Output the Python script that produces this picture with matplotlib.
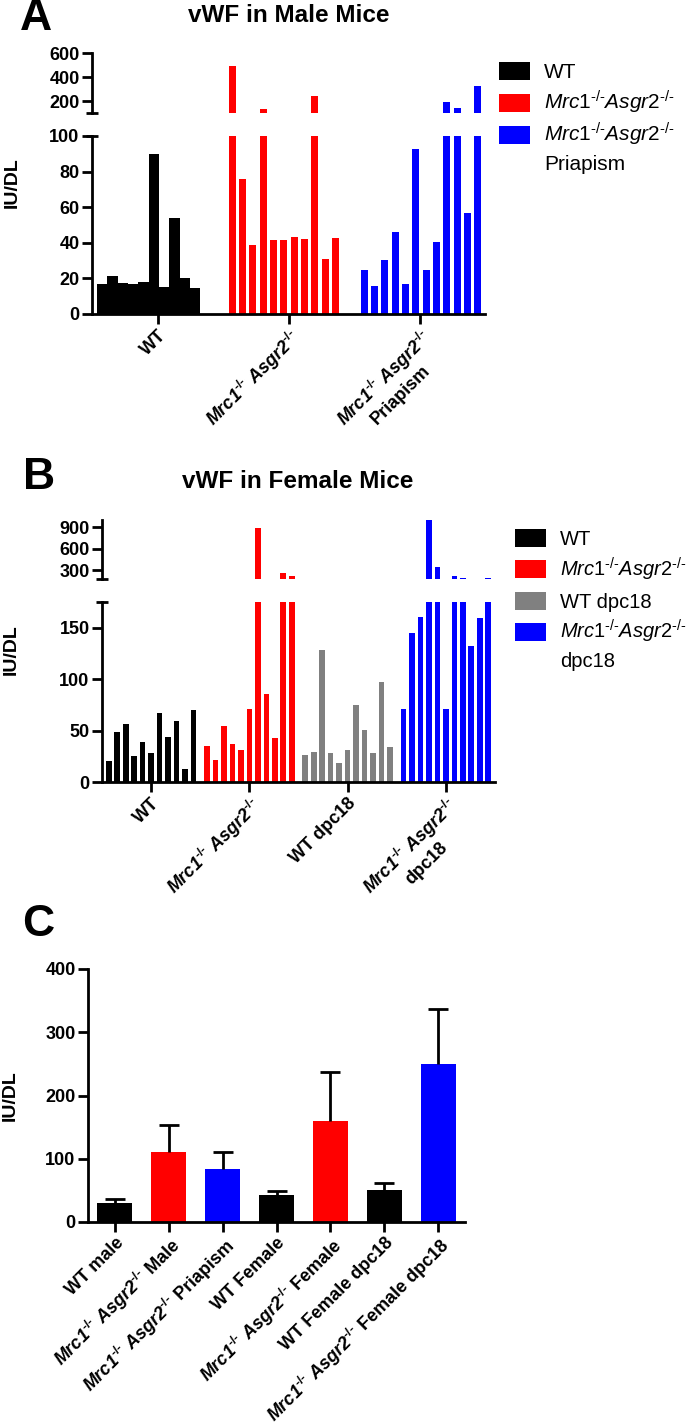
import matplotlib
matplotlib.use('Agg')
import matplotlib.pyplot as plt
from matplotlib.patches import Rectangle
import numpy as np

plt.rcParams['font.family'] = ['Liberation Sans', 'DejaVu Sans']
plt.rcParams['mathtext.fontset'] = 'custom'
plt.rcParams['mathtext.rm'] = 'Liberation Sans'
plt.rcParams['mathtext.it'] = 'Liberation Sans:italic'
plt.rcParams['mathtext.bf'] = 'Liberation Sans:bold'
if 'mathtext.bfit' in plt.rcParams:
    plt.rcParams['mathtext.bfit'] = 'Liberation Sans:italic:bold'

W, H = 693, 1428

# superscript "-/-" written with a real hyphen so mathtext does not turn it into a minus
KO = '$\\mathbfit{Mrc1}^{\\mathbf{\u2010/\u2010}}$ $\\mathbfit{Asgr2}^{\\mathbf{\u2010/\u2010}}$'
KO_LEG = '$\\mathit{Mrc1}^{\u2010/\u2010}\\mathit{Asgr2}^{\u2010/\u2010}$'

# A: vWF in male mice, IU/DL per animal
wt_male = [16.8, 21.5, 17.3, 17.0, 17.7, 90, 15, 53.7, 20, 14.4]
ko_male = [493, 76, 39, 131, 41.5, 41.5, 43, 42, 241, 31, 42.5]
ko_priapism = [25, 16, 30.6, 46, 17, 92.5, 25, 40.5, 192, 142, 57, 324]
male_labels = ['WT', KO, KO + '\nPriapism']
male_legend = ['WT', KO_LEG, KO_LEG + '\nPriapism']
male_colors = ['black', '#ff0000', '#0000ff']

# B: vWF in female mice
wt_female = [20.4, 48.5, 56.6, 25.2, 38.8, 28.5, 66.7, 43.4, 58.9, 12.3, 69.6]
ko_female = [35, 21, 54.7, 36.9, 31.4, 70.6, 895, 85.8, 42.7, 254, 220]
wt_dpc18 = [25.9, 29.1, 128.5, 27.8, 18.8, 31, 75, 50.8, 28.2, 96.8, 33.7]
ko_dpc18 = [70.6, 144.7, 160.8, 1000, 346, 70.6, 216, 182, 132.4, 159.5, 193]
female_labels = ['WT', KO, 'WT dpc18', KO + '\ndpc18']
female_legend = ['WT', KO_LEG, 'WT dpc18', KO_LEG + '\ndpc18']
female_colors = ['black', '#ff0000', '#808080', '#0000ff']

# C: group means with error
summary_labels = ['WT male', KO + ' Male', KO + ' Priapism', 'WT Female',
                  KO + ' Female', 'WT Female dpc18', KO + ' Female dpc18']
summary_means = [30, 111, 84, 43, 160, 50, 250]
summary_err = [6, 43, 27, 6, 77, 11, 86]
summary_colors = ['black', '#ff0000', '#0000ff', 'black', '#ff0000', 'black', '#0000ff']


def px_axes(fig, left, top, right, bottom):
    return fig.add_axes([left / W, 1 - bottom / H, (right - left) / W, (bottom - top) / H])


def style(ax):
    for s in ('top', 'right'):
        ax.spines[s].set_visible(False)
    for s in ('left', 'bottom'):
        ax.spines[s].set_linewidth(2)
    ax.tick_params(width=2, length=7, labelsize=13, pad=2)


def bold_ticks(ax):
    for lbl in ax.get_xticklabels() + ax.get_yticklabels():
        lbl.set_fontweight('bold')


def cap(ax, y):
    ax.plot([-0.016, 0.016], [y, y], transform=ax.transAxes, color='k', lw=2,
            clip_on=False, solid_capstyle='butt')


def broken_panel(fig, xl, xr, top_box, low_box, groups, starts, widths, colors,
                 xlim, top_lim, top_ticks, low_lim, low_ticks, xticks, xlabels):
    upper = px_axes(fig, xl, top_box[0], xr, top_box[1])
    lower = px_axes(fig, xl, low_box[0], xr, low_box[1])
    for ax in (upper, lower):
        for vals, x0, w, c in zip(groups, starts, widths, colors):
            ax.bar(x0 + np.arange(len(vals)), vals, w, color=c, linewidth=0)
        ax.set_xlim(*xlim)
        style(ax)
    upper.set_ylim(*top_lim)
    upper.set_yticks(top_ticks)
    upper.spines['bottom'].set_visible(False)
    upper.set_xticks([])
    lower.set_ylim(*low_lim)
    lower.set_yticks(low_ticks)
    lower.set_xticks(xticks)
    lower.set_xticklabels(xlabels, rotation=45, ha='right', va='top',
                          rotation_mode='anchor', multialignment='center')
    cap(upper, 0)
    cap(lower, 1)
    bold_ticks(upper)
    bold_ticks(lower)
    return upper, lower


def legend(fig, x, y, labels, colors, step, size=15):
    for i, (lab, c) in enumerate(zip(labels, colors)):
        yc = y + i * step
        fig.add_artist(Rectangle((x / W, 1 - (yc + 9) / H), 31 / W, 18 / H,
                                 transform=fig.transFigure, color=c, lw=0))
        for j, line in enumerate(lab.split('\n')):
            fig.text((x + 45) / W, 1 - (yc + 7 + j * 28) / H, line, va='baseline',
                     fontsize=size)


def heading(fig, x, y, s, size, **kw):
    fig.text(x / W, 1 - y / H, s, fontsize=size, fontweight='bold', va='center', **kw)


fig = plt.figure(figsize=(W / 100, H / 100), dpi=100)

# panel A
broken_panel(fig, 92, 485, (53, 113), (136, 314),
             [wt_male, ko_male, ko_priapism], [0, 12.56, 25.31], [1.0, 0.68, 0.68],
             male_colors, (-0.98, 36.99), (100, 600), [200, 400, 600],
             (0, 100), np.arange(0, 101, 20), [5.37, 18.05, 30.71], male_labels)
legend(fig, 499, 70.5, male_legend, male_colors, 32)
heading(fig, 289, 15, 'vWF in Male Mice', 17.5, ha='center')
heading(fig, 20, 19, 'A', 32, ha='left')
heading(fig, 12, 183, 'IU/DL', 14, ha='center', rotation=90)

# panel B
b_starts = [0, 11.6, 23.2, 34.8]
broken_panel(fig, 102, 495, (520, 579), (602, 782),
             [wt_female, ko_female, wt_dpc18, ko_dpc18], b_starts, [0.66] * 4,
             female_colors, (-0.8, 45.6), (175, 1000), [300, 600, 900],
             (0, 175), [0, 50, 100, 150], [s + 5 for s in b_starts], female_labels)
legend(fig, 515, 538, female_legend, female_colors, 31.3, size=14.5)
heading(fig, 298, 482, 'vWF in Female Mice', 17.5, ha='center')
heading(fig, 23, 478, 'B', 32, ha='left')
heading(fig, 11, 650, 'IU/DL', 14, ha='center', rotation=90)

# panel C
ax = px_axes(fig, 88, 969, 465, 1222)
x = np.arange(len(summary_means))
ax.bar(x, summary_means, 0.65, color=summary_colors, linewidth=0)
eb = ax.errorbar(x, summary_means, yerr=[np.zeros(len(x)), summary_err], fmt='none',
                 ecolor='k', elinewidth=2, capsize=7, capthick=2)
eb[1][0].set_visible(False)
style(ax)
ax.set_xlim(-0.5, 6.5)
ax.set_ylim(0, 400)
ax.set_yticks(np.arange(0, 401, 100))
ax.set_xticks(x)
ax.set_xticklabels(summary_labels, rotation=45, ha='right', va='top', rotation_mode='anchor')
bold_ticks(ax)
heading(fig, 22, 925, 'C', 32, ha='left')
heading(fig, 10, 1096, 'IU/DL', 14, ha='center', rotation=90)

fig.savefig('out.png', dpi=100)
